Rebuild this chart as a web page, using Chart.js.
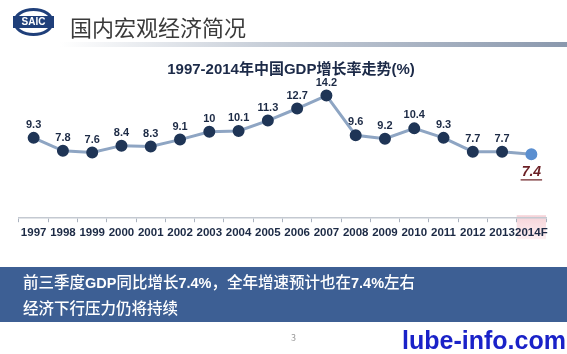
<!DOCTYPE html>
<html>
<head>
<meta charset="utf-8">
<script src="https://cdn.jsdelivr.net/npm/chart.js@4"></script>
<style>
  body { margin: 0; width: 567px; height: 354px; position: relative; overflow: hidden; background: #fff;
         font-family: "Noto Sans CJK SC", "Liberation Sans", sans-serif; }
  #myChart { position: absolute; left: 0; top: 0; }
  .logo { position: absolute; left: 13px; top: 8px; width: 35px; height: 22px; border: 3px solid #1f3f7a;
          border-radius: 50%; background: #fff; }
  .logo span { position: absolute; left: -3px; right: -3px; top: 5px; height: 12px; background: #1f3f7a; color: #fff;
               font: bold 10px "Liberation Sans", sans-serif; text-align: center; line-height: 12px; }
  .head { position: absolute; left: 70px; top: 10px; font-size: 22px; line-height: 32px; color: #3a3a3a; }
  .rule { position: absolute; left: 60px; right: 0; top: 42px; height: 5px;
          background: linear-gradient(to right, #fff, #c8cfd9 40%, #8a98ad); }
  .ttl { position: absolute; left: 0; width: 582px; top: 57px; text-align: center; font-size: 15px; font-weight: bold; color: #1c2a48;
         font-family: "Liberation Sans", "Noto Sans CJK SC", sans-serif; }
  .band { position: absolute; left: 0; right: 0; top: 267px; height: 55px; background: #3d5f94; color: #fff; }
  .band div { position: absolute; left: 23px; font-size: 15.5px; font-weight: 500; line-height: 23px; white-space: nowrap; }
  .band b { font-family: "Liberation Sans", sans-serif; font-size: 14.5px; }
  .pg { position: absolute; left: 291px; top: 331px; font-size: 9px; color: #999; }
  .wm { position: absolute; left: 402px; top: 326px; font: bold 25px "Liberation Sans", sans-serif; color: #1a22c8; }
</style>
</head>
<body>
<canvas id="myChart" width="567" height="354"></canvas>
<div class="logo"><span>SAIC</span></div>
<div class="head">国内宏观经济简况</div>
<div class="rule"></div>
<div class="ttl">1997-2014年中国GDP增长率走势(%)</div>
<div class="band">
  <div style="top:3px">前三季度<b>GDP</b>同比增长<b>7.4%</b>，全年增速预计也在<b>7.4%</b>左右</div>
  <div style="top:29px">经济下行压力仍将持续</div>
</div>
<div class="pg">3</div>
<div class="wm">lube-info.com</div>
<script>
const years = ['1997', '1998', '1999', '2000', '2001', '2002', '2003', '2004', '2005',
  '2006', '2007', '2008', '2009', '2010', '2011', '2012', '2013', '2014F'];
const growth = [9.3, 7.8, 7.6, 8.4, 8.3, 9.1, 10, 10.1, 11.3, 12.7, 14.2, 9.6, 9.2, 10.4, 9.3, 7.7, 7.7, 7.4];

const navy = '#1f3556';
const pointColors = growth.map((v, i) => i === growth.length - 1 ? '#5b8fd0' : navy);

// pink box behind the forecast year, value labels above the points
const valueLabels = {
  id: 'valueLabels',
  beforeDraw(chart) {
    const ctx = chart.ctx;
    const x = chart.scales.x;
    const last = growth.length - 1;
    const cx = x.getPixelForValue(last);
    const w = x.width / years.length;
    const top = chart.chartArea.bottom - 3;
    const g = ctx.createLinearGradient(0, top, 0, top + 24);
    g.addColorStop(0, '#f6d3d8');
    g.addColorStop(1, '#fdf0f2');
    ctx.save();
    ctx.fillStyle = g;
    ctx.fillRect(cx - w / 2, top, w, 24);
    ctx.restore();
  },
  afterDatasetsDraw(chart) {
    const ctx = chart.ctx;
    const meta = chart.getDatasetMeta(0);
    ctx.save();
    ctx.textAlign = 'center';
    ctx.textBaseline = 'middle';
    meta.data.forEach((pt, i) => {
      if (i === growth.length - 1) {
        ctx.font = 'italic bold 14px "Liberation Sans", sans-serif';
        ctx.fillStyle = '#6b1f24';
        ctx.fillText(String(growth[i]), pt.x, pt.y + 18);
        const tw = ctx.measureText(String(growth[i])).width;
        ctx.fillRect(pt.x - tw / 2 - 1, pt.y + 25, tw + 2, 1.2);
      } else {
        ctx.font = 'bold 11px "Liberation Sans", sans-serif';
        ctx.fillStyle = '#1c2a45';
        ctx.fillText(String(growth[i]), pt.x, pt.y - 13);
      }
    });
    ctx.restore();
  }
};

const config = {
  type: 'line',
  data: {
    labels: years,
    datasets: [{
      data: growth,
      borderColor: '#8ea5c3',
      borderWidth: 3,
      pointBackgroundColor: pointColors,
      pointBorderColor: pointColors,
      pointRadius: 4.5,
      tension: 0
    }]
  },
  options: {
    responsive: false,
    animation: false,
    layout: { padding: { left: 19, right: 21, top: 80, bottom: 110 } },
    plugins: { legend: { display: false }, tooltip: { enabled: false } },
    scales: {
      y: { display: false, min: 0, max: 16 },
      x: {
        offset: true,
        grid: { drawOnChartArea: false, offset: true, tickLength: 4, color: '#aab2bf' },
        border: { color: '#c4c9d1', width: 1.5 },
        ticks: { padding: 4, color: '#1c2a45', font: { family: '"Liberation Sans", sans-serif', size: 11.5, weight: 'bold' }, autoSkip: false, maxRotation: 0 }
      }
    }
  },
  plugins: [valueLabels]
};

const myChart = new Chart(document.getElementById('myChart'), config);
</script>
</body>
</html>
